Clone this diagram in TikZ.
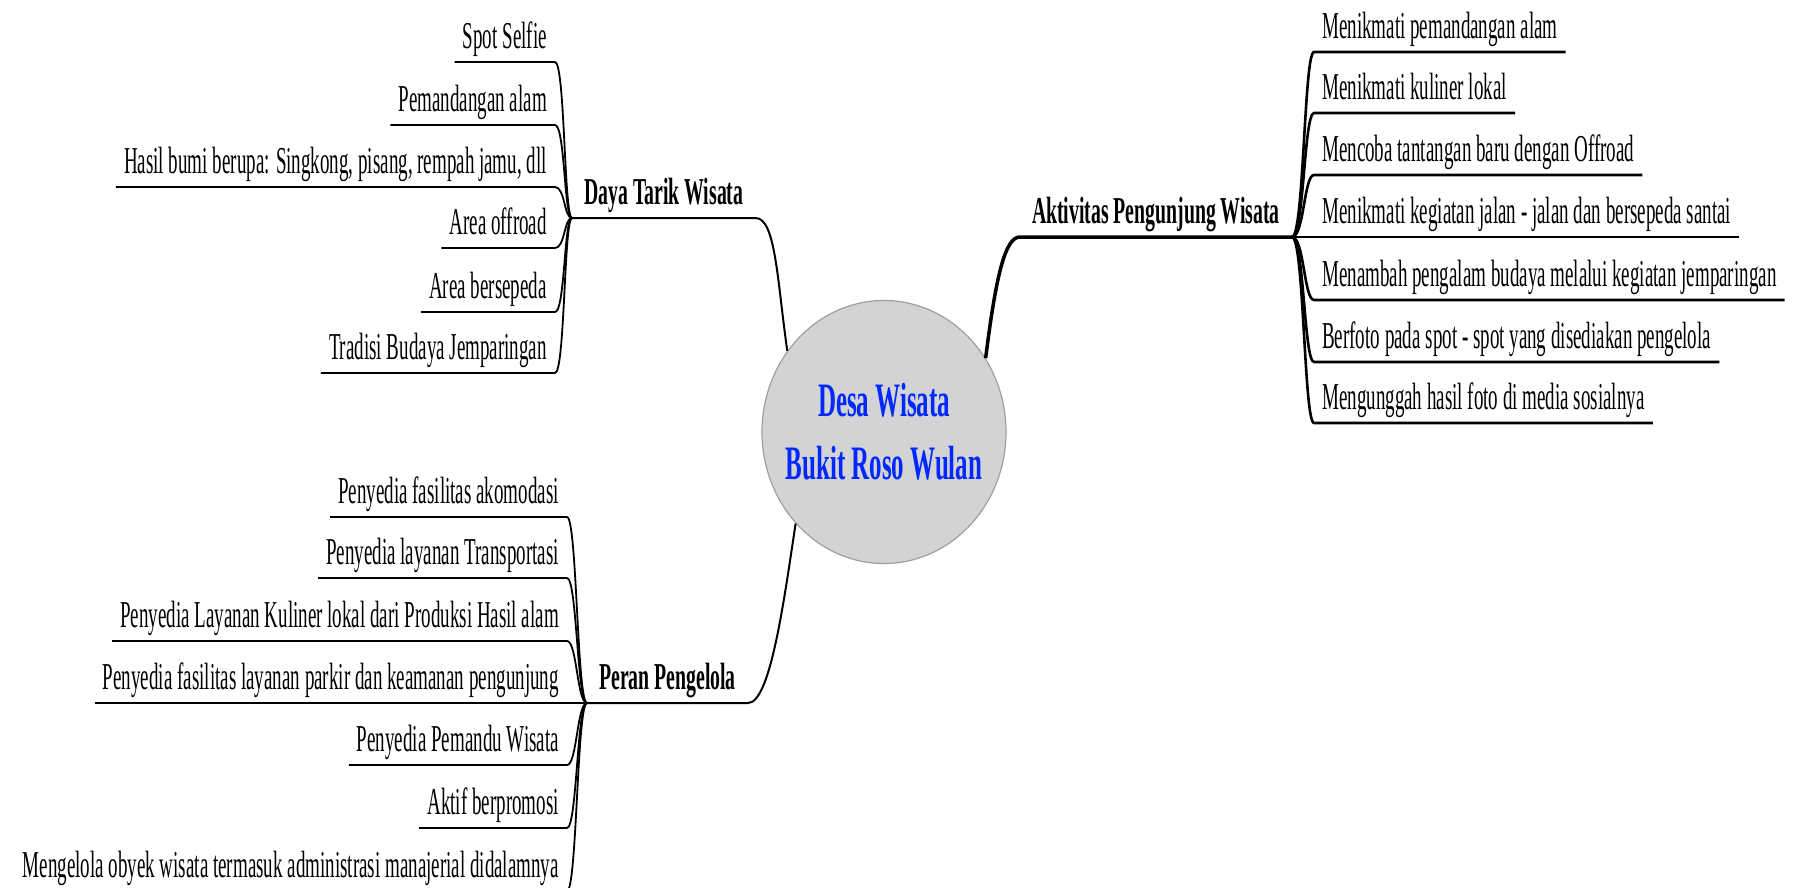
\documentclass[tikz,border=0pt]{standalone}
\usepackage{fontspec}
\usetikzlibrary{shapes.geometric}
\newfontfamily\topicfont[FakeStretch=0.52]{Liberation Serif}
\newfontfamily\leaffont[FakeStretch=0.50]{Liberation Serif}
\definecolor{hubfill}{RGB}{211,211,211}
\definecolor{hubline}{RGB}{160,160,160}
\definecolor{hubtext}{RGB}{0,40,255}
\begin{document}
\begin{tikzpicture}[
      x=1pt, y=-1pt,
      hub/.style={ellipse,minimum width=244pt,minimum height=263pt,inner xsep=-16pt,inner ysep=0pt,
        fill=hubfill,draw=hubline,line width=1.2pt,align=center,text=hubtext,
        font=\topicfont\bfseries\fontsize{48}{63}\selectfont},
      branch/.style={font=\topicfont\bfseries\fontsize{38}{40}\selectfont,
        inner xsep=12pt,inner ysep=13pt,text depth=0pt},
      leaf/.style={font=\leaffont\fontsize{38}{40}\selectfont,
        inner xsep=8pt,inner ysep=13pt,text depth=0pt},
      limb/.style={line width=2pt,line join=round},
      heavylimb/.style={line width=3.5pt,line join=round},
      twig/.style={line width=1.8pt,line join=round},
      heavytwig/.style={line width=2.6pt,line join=round}
    ]
    \useasboundingbox (0,0) rectangle (1802,887);
    % Draw the centre.
    \node[hub] (desa) at (884,432) {Desa Wisata\\Bukit Roso Wulan};
    % Draw the main branches.
    \node[branch,anchor=south west] (daya) at (572,218) {Daya Tarik Wisata};
    \node[branch,anchor=south west] (peran) at (587,703) {Peran Pengelola};
    \node[branch,anchor=south east] (aktivitas) at (1292,237) {Aktivitas Pengunjung Wisata};
    \draw[limb] (desa.140) .. controls +(-10,-70) and +(20,0) .. (daya.south east) -- (daya.south west);
    \draw[limb] (desa.226) .. controls +(-12,80) and +(22,0) .. (peran.south east) -- (peran.south west);
    \draw[heavylimb] (desa.36) .. controls +(10,-80) and +(-15,0) .. (aktivitas.south west) -- (aktivitas.south east);
    % Draw the leaves of Daya Tarik Wisata.
    \node[leaf,anchor=south east] (selfie) at (555,62) {Spot Selfie};
    \node[leaf,anchor=south east] (alam) at (555,125) {Pemandangan alam};
    \node[leaf,anchor=south east] (bumi) at (555,187) {Hasil bumi berupa: Singkong, pisang, rempah jamu, dll};
    \node[leaf,anchor=south east] (offroad) at (555,248) {Area offroad};
    \node[leaf,anchor=south east] (sepeda) at (555,312) {Area bersepeda};
    \node[leaf,anchor=south east] (tradisi) at (555,373) {Tradisi Budaya Jemparingan};
    \draw[twig] (daya.south west) .. controls +(-8,0) and +(10,0) .. (selfie.south east) -- (selfie.south west);
    \draw[twig] (daya.south west) .. controls +(-8,0) and +(10,0) .. (alam.south east) -- (alam.south west);
    \draw[twig] (daya.south west) .. controls +(-8,0) and +(10,0) .. (bumi.south east) -- (bumi.south west);
    \draw[twig] (daya.south west) .. controls +(-8,0) and +(10,0) .. (offroad.south east) -- (offroad.south west);
    \draw[twig] (daya.south west) .. controls +(-8,0) and +(10,0) .. (sepeda.south east) -- (sepeda.south west);
    \draw[twig] (daya.south west) .. controls +(-8,0) and +(10,0) .. (tradisi.south east) -- (tradisi.south west);
    % Draw the leaves of Peran Pengelola.
    \node[leaf,anchor=south east] (akomodasi) at (567,517) {Penyedia fasilitas akomodasi};
    \node[leaf,anchor=south east] (transport) at (567,578) {Penyedia layanan Transportasi};
    \node[leaf,anchor=south east] (kuliner) at (567,641) {Penyedia Layanan Kuliner lokal dari Produksi Hasil alam};
    \node[leaf,anchor=south east] (parkir) at (567,703) {Penyedia fasilitas layanan parkir dan keamanan pengunjung};
    \node[leaf,anchor=south east] (pemandu) at (567,765) {Penyedia Pemandu Wisata};
    \node[leaf,anchor=south east] (promosi) at (567,828) {Aktif berpromosi};
    \node[leaf,anchor=south east] (kelola) at (567,891) {Mengelola obyek wisata termasuk administrasi manajerial didalamnya};
    \draw[twig] (peran.south west) .. controls +(-10,0) and +(10,0) .. (akomodasi.south east) -- (akomodasi.south west);
    \draw[twig] (peran.south west) .. controls +(-10,0) and +(10,0) .. (transport.south east) -- (transport.south west);
    \draw[twig] (peran.south west) .. controls +(-10,0) and +(10,0) .. (kuliner.south east) -- (kuliner.south west);
    \draw[twig] (peran.south west) -- (parkir.south east) -- (parkir.south west);
    \draw[twig] (peran.south west) .. controls +(-10,0) and +(10,0) .. (pemandu.south east) -- (pemandu.south west);
    \draw[twig] (peran.south west) .. controls +(-10,0) and +(10,0) .. (promosi.south east) -- (promosi.south west);
    \draw[twig] (peran.south west) .. controls +(-10,0) and +(10,0) .. (kelola.south east) -- (kelola.south west);
    % Draw the leaves of Aktivitas Pengunjung Wisata.
    \node[leaf,anchor=south west] (panorama) at (1314,52) {Menikmati pemandangan alam};
    \node[leaf,anchor=south west] (makan) at (1314,113) {Menikmati kuliner lokal};
    \node[leaf,anchor=south west] (tantangan) at (1314,175) {Mencoba tantangan baru dengan Offroad};
    \node[leaf,anchor=south west] (jalan) at (1314,237) {Menikmati kegiatan jalan - jalan dan bersepeda santai};
    \node[leaf,anchor=south west] (budaya) at (1314,300) {Menambah pengalam budaya melalui kegiatan jemparingan};
    \node[leaf,anchor=south west] (foto) at (1314,362) {Berfoto pada spot - spot yang disediakan pengelola};
    \node[leaf,anchor=south west] (unggah) at (1314,423) {Mengunggah hasil foto di media sosialnya};
    \draw[heavytwig] (aktivitas.south east) .. controls +(12,0) and +(-10,0) .. (panorama.south west) -- (panorama.south east);
    \draw[heavytwig] (aktivitas.south east) .. controls +(12,0) and +(-10,0) .. (makan.south west) -- (makan.south east);
    \draw[heavytwig] (aktivitas.south east) .. controls +(12,0) and +(-10,0) .. (tantangan.south west) -- (tantangan.south east);
    \draw[heavytwig] (aktivitas.south east) -- (jalan.south west) -- (jalan.south east);
    \draw[heavytwig] (aktivitas.south east) .. controls +(12,0) and +(-10,0) .. (budaya.south west) -- (budaya.south east);
    \draw[heavytwig] (aktivitas.south east) .. controls +(12,0) and +(-10,0) .. (foto.south west) -- (foto.south east);
    \draw[heavytwig] (aktivitas.south east) .. controls +(12,0) and +(-10,0) .. (unggah.south west) -- (unggah.south east);
    \end{tikzpicture}
\end{document}
